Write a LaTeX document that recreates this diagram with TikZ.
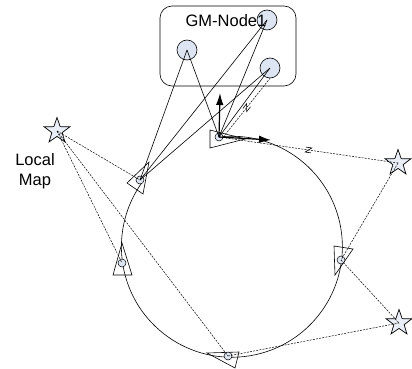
\documentclass[tikz,border=0pt]{standalone}
\usepackage{fontspec}
\setmainfont{Liberation Sans}
\usetikzlibrary{shapes.geometric,arrows.meta,decorations.markings}
\definecolor{cfill}{HTML}{DDE5F2}
\definecolor{sfill}{HTML}{E9EEF7}
\begin{document}
\begin{tikzpicture}[x=1pt,y=-1pt,
  gm/.style={circle,draw,fill=cfill,minimum size=20pt,inner sep=0,line width=0.6pt},
  pose/.style={circle,draw,fill=cfill,minimum size=8pt,inner sep=0,line width=0.5pt},
  lm/.style={star,star points=5,star point ratio=2.5,minimum size=27pt,inner sep=0,draw,fill=sfill,line width=0.7pt},
  link/.style={line width=0.6pt},
  obs/.style={line width=0.5pt,dash pattern=on 2pt off 1.2pt},
  tri/.style={line width=0.6pt},
  axis/.style={line width=1.2pt,-{Latex[length=12pt,width=7.5pt]}},
  zmark/.style={postaction={decorate},decoration={markings,mark=at position 0.5 with {\draw[solid,line width=0.6pt] (-3,-2.5)--(3,-2.5)--(-3,2.5)--(3,2.5);}}},
  lbl/.style={font=\fontsize{16.5}{20}\selectfont,align=center,inner sep=0}]
\useasboundingbox (0,0) rectangle (412,369);
% GM node box
\node[draw,rounded corners=12pt,minimum width=136pt,minimum height=80pt,line width=0.6pt] (box) at (228,46) {};
\node[gm] (g1) at (267,20) {};
\node[gm] (g2) at (187,50) {};
\node[gm] (g3) at (270,68) {};
\node[lbl] (title) at (226,21) {GM-Node1};
% trajectory
\coordinate (p1pos) at (219,137);
\draw[line width=0.6pt] (p1pos) arc[start angle=-96.7,end angle=216,radius=110.5];
% pose triangles
\draw[tri] (210,130) -- (210,148) -- (245,139) -- cycle;
\draw[tri] (334,246) -- (353,249) -- (335,275) -- cycle;
\draw[tri] (207,353) -- (239,352) -- (235,368) -- cycle;
\draw[tri] (122,243) -- (113,275) -- (132,275) -- cycle;
\draw[tri] (127,183) -- (143,194) -- (149,162) -- cycle;
% pose circles
\node[pose] (p1) at (p1pos) {};
\node[pose] (p2) at (341,260) {};
\node[pose] (p3) at (228,356) {};
\node[pose] (p4) at (122,263) {};
\node[pose] (p5) at (140,180) {};
% landmarks
\node[lm] (s1) at (57,131) {};
\node[lm] (s2) at (398,163) {};
\node[lm] (s3) at (399,323) {};
\node[lbl] (lmap) at (35,171) {Local\\Map};
% links to GM node
\draw[link] (g2.center) -- (p5.center);
\draw[link] (g2.center) -- (p1.center);
\draw[link] (g1.center) -- (p5.center);
\draw[link] (g1.center) -- (p1.center);
\draw[link] (g3.center) -- (p5.center);
\draw[link] (g3.center) -- (p1.center);
\draw[obs,zmark] (p1.east) -- (g3.south);
% observations
\draw[obs,zmark] (p1.center) -- (s2.center);
\draw[obs] (s1.center) -- (p5.center);
\draw[obs] (s1.center) -- (p3.center);
\draw[obs] (s1.center) -- (p4.center);
\draw[obs] (s2.center) -- (p2.center);
\draw[obs] (p2.center) -- (s3.center);
\draw[obs] (p3.center) -- (s3.center);
% pose axes
\coordinate (ay) at (220,93);
\coordinate (ax) at (271,140);
\draw[axis] (p1.center) -- (ay);
\draw[axis] (p1.center) -- (ax);
\end{tikzpicture}
\end{document}
